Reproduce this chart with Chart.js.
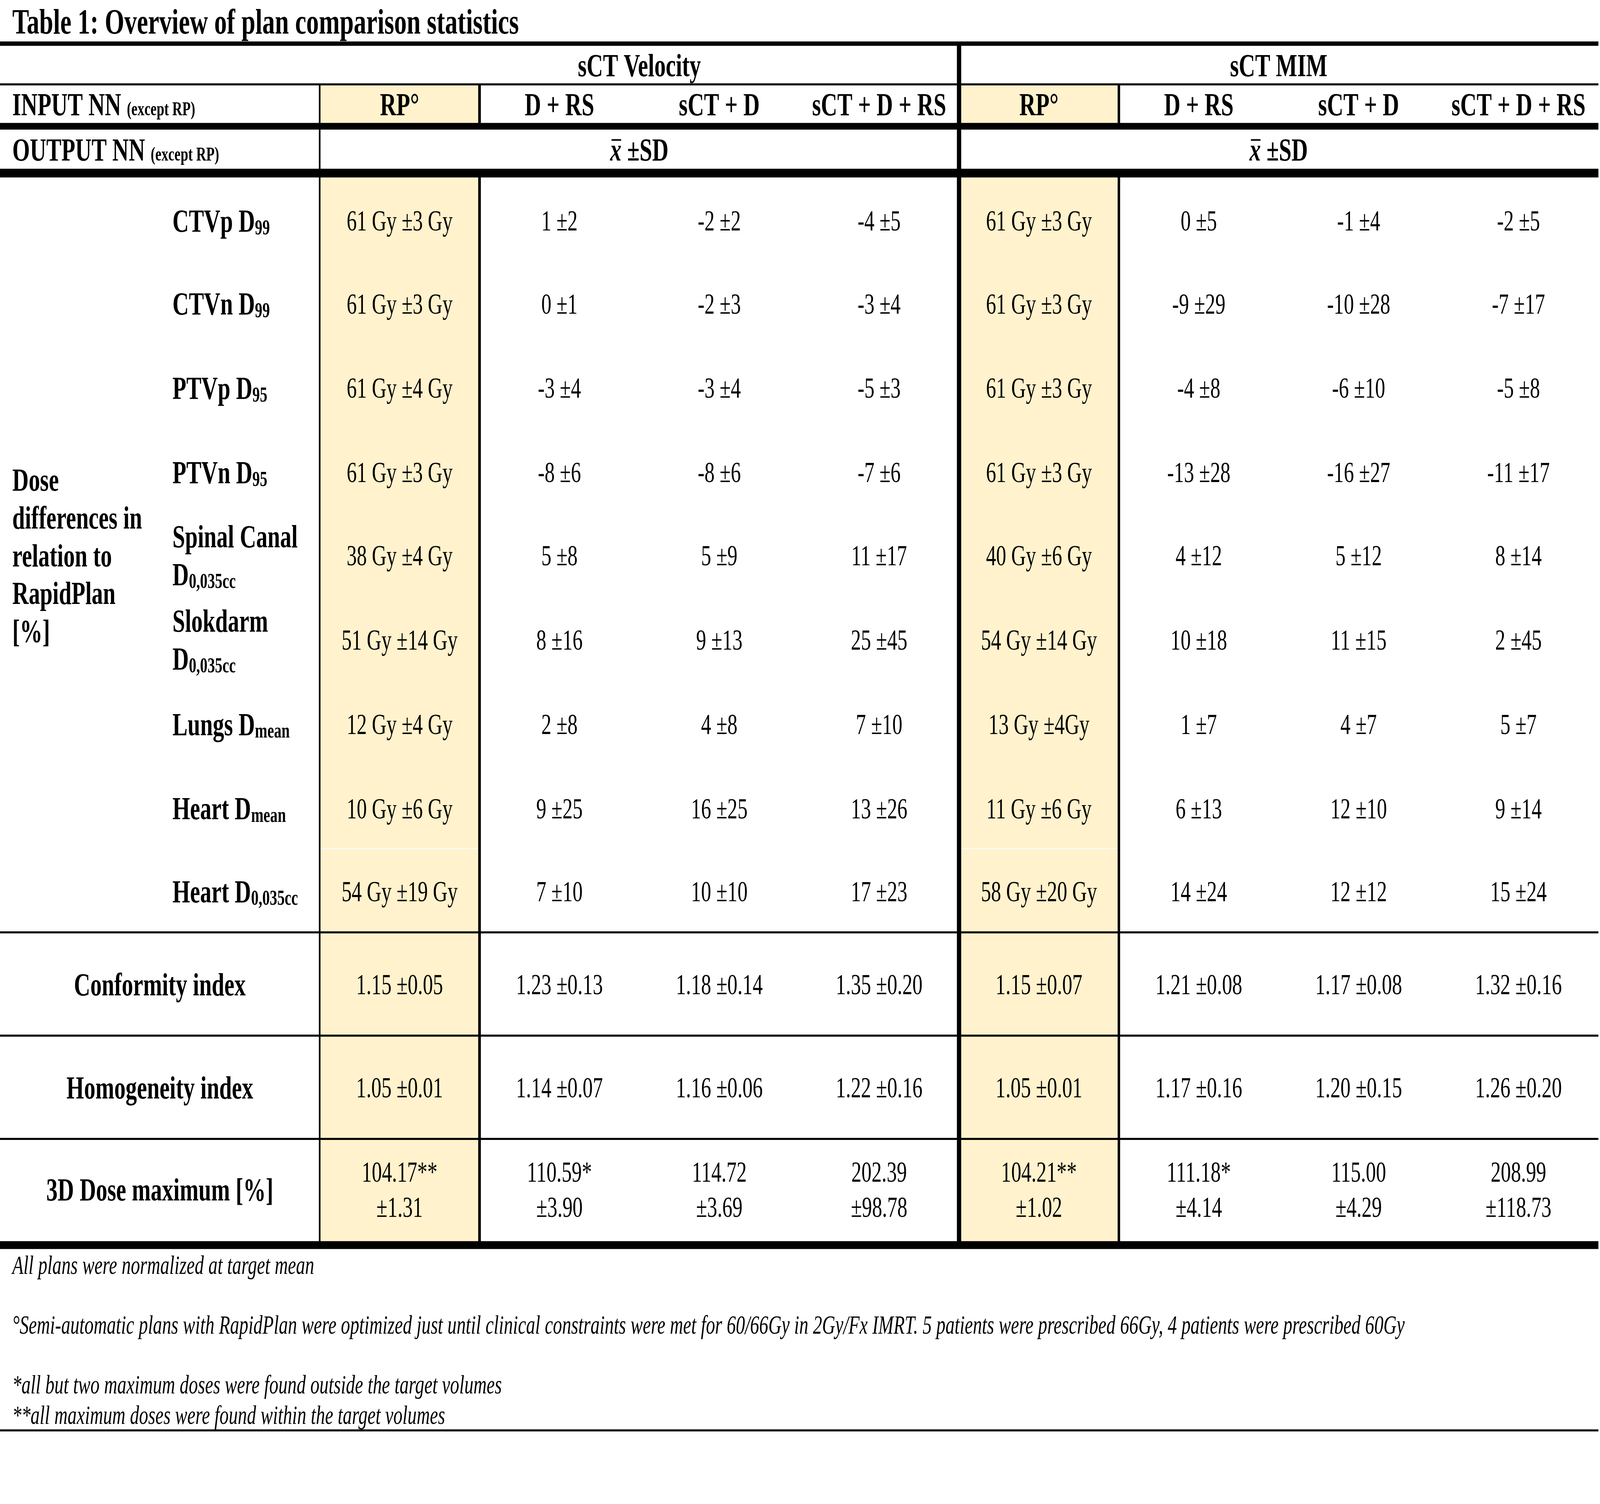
<!DOCTYPE html>
<html>
<head>
<meta charset="utf-8">
<script src="https://cdn.jsdelivr.net/npm/chart.js@4.4.1/dist/chart.umd.min.js"></script>
<style>
html, body { margin: 0; padding: 0; background: #fff; overflow: hidden; }
#wrap { position: relative; width: 100vw; height: 100vh; }
</style>
</head>
<body>
<div id="wrap"><canvas id="myTable"></canvas></div>
<script>
// table content
const title = 'Table 1: Overview of plan comparison statistics';
const groups = ['sCT Velocity', 'sCT MIM'];
const methods = ['RP°', 'D + RS', 'sCT + D', 'sCT + D + RS'];
const inputLabel = ['INPUT NN ', '(except RP)'];
const outputLabel = ['OUTPUT NN ', '(except RP)'];
const statLabel = ['x', ' ±SD'];
const blockLabel = ['Dose', 'differences in', 'relation to', 'RapidPlan', '[%]'];
// "|" = new line, "_" = subscript
const doseRows = ['CTVp D_99', 'CTVn D_99', 'PTVp D_95', 'PTVn D_95', 'Spinal Canal|D_0,035cc',
    'Slokdarm|D_0,035cc', 'Lungs D_mean', 'Heart D_mean', 'Heart D_0,035cc'];
const indexRows = ['Conformity index', 'Homogeneity index', '3D Dose maximum [%]'];

const velocityRP = ['61 Gy ±3 Gy', '61 Gy ±3 Gy', '61 Gy ±4 Gy', '61 Gy ±3 Gy', '38 Gy ±4 Gy', '51 Gy ±14 Gy',
    '12 Gy ±4 Gy', '10 Gy ±6 Gy', '54 Gy ±19 Gy', '1.15 ±0.05', '1.05 ±0.01', '104.17**|±1.31'];
const velocityDRS = ['1 ±2', '0 ±1', '-3 ±4', '-8 ±6', '5 ±8', '8 ±16', '2 ±8', '9 ±25', '7 ±10',
    '1.23 ±0.13', '1.14 ±0.07', '110.59*|±3.90'];
const velocitySctD = ['-2 ±2', '-2 ±3', '-3 ±4', '-8 ±6', '5 ±9', '9 ±13', '4 ±8', '16 ±25', '10 ±10',
    '1.18 ±0.14', '1.16 ±0.06', '114.72|±3.69'];
const velocitySctDRS = ['-4 ±5', '-3 ±4', '-5 ±3', '-7 ±6', '11 ±17', '25 ±45', '7 ±10', '13 ±26', '17 ±23',
    '1.35 ±0.20', '1.22 ±0.16', '202.39|±98.78'];
const mimRP = ['61 Gy ±3 Gy', '61 Gy ±3 Gy', '61 Gy ±3 Gy', '61 Gy ±3 Gy', '40 Gy ±6 Gy', '54 Gy ±14 Gy',
    '13 Gy ±4Gy', '11 Gy ±6 Gy', '58 Gy ±20 Gy', '1.15 ±0.07', '1.05 ±0.01', '104.21**|±1.02'];
const mimDRS = ['0 ±5', '-9 ±29', '-4 ±8', '-13 ±28', '4 ±12', '10 ±18', '1 ±7', '6 ±13', '14 ±24',
    '1.21 ±0.08', '1.17 ±0.16', '111.18*|±4.14'];
const mimSctD = ['-1 ±4', '-10 ±28', '-6 ±10', '-16 ±27', '5 ±12', '11 ±15', '4 ±7', '12 ±10', '12 ±12',
    '1.17 ±0.08', '1.20 ±0.15', '115.00|±4.29'];
const mimSctDRS = ['-2 ±5', '-7 ±17', '-5 ±8', '-11 ±17', '8 ±14', '2 ±45', '5 ±7', '9 ±14', '15 ±24',
    '1.32 ±0.16', '1.26 ±0.20', '208.99|±118.73'];

const footnotes = [
    'All plans were normalized at target mean',
    '°Semi-automatic plans with RapidPlan were optimized just until clinical constraints were met for 60/66Gy in 2Gy/Fx IMRT. 5 patients were prescribed 66Gy, 4 patients were prescribed 60Gy',
    '*all but two maximum doses were found outside the target volumes',
    '**all maximum doses were found within the target volumes'
];

// layout: x in column widths, y in table points (top = 0)
const COLS = 10.01, ROWS = 1034, WIDTH_PTS = 1568;
const rowCenters = [152, 209, 267, 325, 382, 440, 498, 556, 613, 677, 748, 818];
const headY = { title: 15, group: 45, input: 72, output: 103 };
const noteY = [870, 911, 952, 973];
const hLines = [[30, 3.0], [58, 1.4], [86.8, 4.6], [119, 6.0], [641, 1.4], [712, 1.4], [783, 1.4], [856, 5.4], [983.4, 1.4]];
const vLines = [[2, 58, 856, 1.6], [3, 58, 86.8, 2.6], [3, 119, 856, 2.6], [6, 30, 856, 4.2], [7, 58, 86.8, 2.4], [7, 119, 856, 2.4]];
const FONT = '"Liberation Serif", "Times New Roman", serif';

const columns = [velocityRP, velocityDRS, velocitySctD, velocitySctDRS, mimRP, mimDRS, mimSctD, mimSctDRS];

// horizontal text scale so glyphs keep the table's proportions
let SX = 1;

function setFont(ctx, style, size) {
    ctx.font = style + ' ' + size + 'px ' + FONT;
}

function textW(ctx, style, size, s) {
    setFont(ctx, style, size);
    return ctx.measureText(s).width * SX;
}

function put(ctx, style, size, s, x, y) {
    setFont(ctx, style, size);
    ctx.save();
    ctx.translate(x, y);
    ctx.scale(SX, 1);
    ctx.textAlign = 'left';
    ctx.textBaseline = 'alphabetic';
    ctx.fillText(s, 0, 0);
    ctx.restore();
}

// draws "main_sub" text, y is the visual middle of the capitals
function drawLine(ctx, text, x, y, size, style, align) {
    const parts = text.split('_');
    const subSize = size * 0.66;
    const w1 = textW(ctx, style, size, parts[0]);
    const w2 = parts[1] ? textW(ctx, style, subSize, parts[1]) : 0;
    const x0 = align === 'center' ? x - (w1 + w2) / 2 : x;
    const base = y + size * 0.33;
    put(ctx, style, size, parts[0], x0, base);
    if (parts[1]) put(ctx, style, subSize, parts[1], x0 + w1, base + size * 0.08);
}

function drawBlock(ctx, text, x, y, size, style, align, gap) {
    const lines = text.split('|');
    lines.forEach((ln, i) => {
        drawLine(ctx, ln, x, y + (i - (lines.length - 1) / 2) * gap, size, style, align);
    });
}

const tablePlugin = {
    id: 'tablePlugin',
    beforeDatasetsDraw(chart) {
        const ctx = chart.ctx;
        const xs = chart.scales.x, ys = chart.scales.y;
        const u = Math.abs(ys.getPixelForValue(1) - ys.getPixelForValue(0));
        ctx.save();
        // RP columns
        [2, 6].forEach(c => {
            const x0 = xs.getPixelForValue(c), x1 = xs.getPixelForValue(c + 1);
            ctx.fillStyle = '#FFF2CC';
            [[58, 86.8], [119, 856]].forEach(([a, b]) => {
                const y0 = ys.getPixelForValue(a), y1 = ys.getPixelForValue(b);
                ctx.fillRect(x0, y0, x1 - x0, y1 - y0);
            });
            ctx.fillStyle = '#FFFBF2';
            ctx.fillRect(x0, ys.getPixelForValue(583.5) - u * 0.4, x1 - x0, u * 0.8);
        });
        // rules
        const ux = (xs.getPixelForValue(COLS) - xs.getPixelForValue(0)) / WIDTH_PTS;
        ctx.fillStyle = '#000';
        hLines.forEach(([y, w]) => {
            const py = ys.getPixelForValue(y);
            ctx.fillRect(xs.getPixelForValue(0), py - w * u / 2, xs.getPixelForValue(10) - xs.getPixelForValue(0), w * u);
        });
        vLines.forEach(([x, a, b, w]) => {
            const px = xs.getPixelForValue(x);
            const y0 = ys.getPixelForValue(a), y1 = ys.getPixelForValue(b);
            ctx.fillRect(px - w * ux / 2, y0, w * ux, y1 - y0);
        });
        ctx.restore();
    },
    afterDatasetsDraw(chart) {
        const ctx = chart.ctx;
        const xs = chart.scales.x, ys = chart.scales.y;
        const u = Math.abs(ys.getPixelForValue(1) - ys.getPixelForValue(0));
        const ux = (xs.getPixelForValue(COLS) - xs.getPixelForValue(0)) / WIDTH_PTS;
        SX = ux / u;
        const bold = 22.2 * u, body = 19.8 * u, small = 13.5 * u;
        const leftX = xs.getPixelForValue(0.077);
        ctx.save();
        ctx.fillStyle = '#000';

        // title
        drawLine(ctx, title, leftX, ys.getPixelForValue(headY.title), 24.6 * u, 'bold', 'left');

        // group headers
        groups.forEach((g, i) => {
            drawLine(ctx, g, xs.getPixelForValue(4 + i * 4), ys.getPixelForValue(headY.group), bold, 'bold', 'center');
        });

        // input / output row labels
        [[inputLabel, headY.input], [outputLabel, headY.output]].forEach(([lab, yv]) => {
            const py = ys.getPixelForValue(yv);
            const w = textW(ctx, 'bold', bold, lab[0]);
            drawLine(ctx, lab[0], leftX, py, bold, 'bold', 'left');
            put(ctx, 'bold', small, lab[1], leftX + w, py + bold * 0.33);
        });

        // method headers
        groups.forEach((g, gi) => {
            methods.forEach((m, mi) => {
                drawLine(ctx, m, xs.getPixelForValue(2.5 + gi * 4 + mi), ys.getPixelForValue(headY.input), bold, 'bold', 'center');
            });
            // x-bar ±SD
            const cx = xs.getPixelForValue(4 + gi * 4), py = ys.getPixelForValue(headY.output);
            const wx = textW(ctx, 'italic bold', bold, statLabel[0]);
            const ws = textW(ctx, 'bold', bold, statLabel[1]);
            const x0 = cx - (wx + ws) / 2, base = py + bold * 0.33;
            put(ctx, 'italic bold', bold, statLabel[0], x0, base);
            ctx.fillRect(x0 + wx * 0.12, base - bold * 0.66, wx * 0.85, bold * 0.05);
            put(ctx, 'bold', bold, statLabel[1], x0 + wx, base);
        });

        // row labels
        drawBlock(ctx, blockLabel.join('|'), leftX, ys.getPixelForValue(382), bold, 'bold', 'left', 26 * u);
        doseRows.forEach((r, i) => {
            drawBlock(ctx, r, xs.getPixelForValue(1.079), ys.getPixelForValue(rowCenters[i]), bold, 'bold', 'left', 26 * u);
        });
        indexRows.forEach((r, i) => {
            drawBlock(ctx, r, xs.getPixelForValue(1), ys.getPixelForValue(rowCenters[9 + i]), bold, 'bold', 'center', 26 * u);
        });

        // cells from dataset points
        chart.data.datasets.forEach((ds, di) => {
            const meta = chart.getDatasetMeta(di);
            meta.data.forEach((pt, i) => {
                drawBlock(ctx, ds.cells[i], pt.x, pt.y, body, 'normal', 'center', 24 * u);
            });
        });

        // footnotes
        footnotes.forEach((f, i) => {
            drawLine(ctx, f, leftX, ys.getPixelForValue(noteY[i]), 17.9 * u, 'italic', 'left');
        });
        ctx.restore();
    }
};

const datasets = columns.map((col, c) => ({
    label: groups[Math.floor(c / 4)] + ' ' + methods[c % 4],
    cells: col,
    data: col.map((v, i) => ({ x: 2.5 + c, y: rowCenters[i] })),
    pointRadius: 0,
    showLine: false
}));

const ctx = document.getElementById('myTable').getContext('2d');
const myTable = new Chart(ctx, {
    type: 'scatter',
    data: { datasets: datasets },
    options: {
        responsive: true,
        maintainAspectRatio: false,
        animation: false,
        events: [],
        layout: { padding: 0 },
        plugins: {
            legend: { display: false },
            tooltip: { enabled: false }
        },
        scales: {
            x: { type: 'linear', min: 0, max: COLS, display: false },
            y: { type: 'linear', min: 0, max: ROWS, reverse: true, display: false }
        }
    },
    plugins: [tablePlugin]
});
</script>
</body>
</html>
